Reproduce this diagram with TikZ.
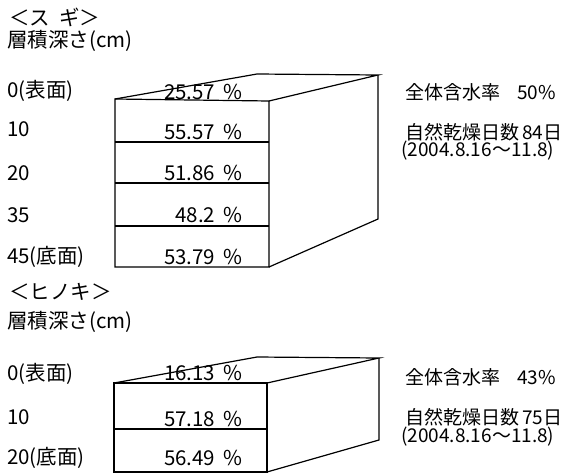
\documentclass[tikz,border=0pt]{standalone}
\usepackage{fontspec}
\setmainfont{Noto Sans CJK JP}
\newcommand{\pcs}{\hspace{0.42em}\%}
\begin{document}
\begin{tikzpicture}[x=1pt,y=-1pt,
  edge/.style={line width=1.2pt,black},
  lbl/.style={anchor=west,inner sep=0pt,font=\fontsize{20.5}{22}\selectfont},
  pct/.style={anchor=east,inner sep=0pt,font=\fontsize{20.5}{22}\selectfont},
  info/.style={anchor=west,inner sep=0pt,font=\fontsize{19}{20}\selectfont}]
\useasboundingbox (0,0) rectangle (567,474);
% ---------------- Sugi box ----------------
\coordinate (s-ftl) at (115,99);
\coordinate (s-ftr) at (269,101);
\coordinate (s-fbl) at (115,267);
\coordinate (s-fbr) at (269,267);
\coordinate (s-btl) at (257,74);
\coordinate (s-btr) at (378,75);
\coordinate (s-bbr) at (378,219);
\coordinate (s-d1l) at (115,142); \coordinate (s-d1r) at (269,142);
\coordinate (s-d2l) at (115,183); \coordinate (s-d2r) at (269,183);
\coordinate (s-d3l) at (115,226); \coordinate (s-d3r) at (269,226);
\draw[edge] (s-ftl) -- (s-ftr) -- (s-fbr) -- (s-fbl) -- cycle;
\draw[edge] (s-ftl) -- (s-btl) -- (s-btr) -- (s-ftr);
\draw[edge] (s-btr) -- (s-bbr) -- (s-fbr);
\draw[edge] (s-d1l) -- (s-d1r);
\draw[edge] (s-d2l) -- (s-d2r);
\draw[edge] (s-d3l) -- (s-d3r);
% labels
\node[lbl] (s-title) at (9,17) {＜ス\hspace{0.45em}ギ＞};
\node[lbl] (s-depth) at (7,41) {層積深さ(cm)};
\node[lbl] (s-l0) at (7,91) {0(表面)};
\node[lbl] (s-l10) at (7,129) {10};
\node[lbl] (s-l20) at (7,173) {20};
\node[lbl] (s-l35) at (7,215) {35};
\node[lbl] (s-l45) at (7,257) {45(底面)};
\node[pct] (s-p0) at (243,92) {25.57\pcs};
\node[pct] (s-p10) at (243,132) {55.57\pcs};
\node[pct] (s-p20) at (243,173) {51.86\pcs};
\node[pct] (s-p35) at (243,215) {48.2\pcs};
\node[pct] (s-p45) at (243,257) {53.79\pcs};
\node[info] (s-w) at (405,92) {全体含水率\hspace{0.9em}50\%};
\node[info] (s-d) at (405,132) {自然乾燥日数\,84日};
\node[info] (s-p) at (401,151) {(2004.8.16～11.8)};
% ---------------- Hinoki box ----------------
\coordinate (h-ftl) at (114,383);
\coordinate (h-ftr) at (267,383);
\coordinate (h-fbl) at (114,472);
\coordinate (h-fbr) at (267,472);
\coordinate (h-btl) at (257,357);
\coordinate (h-btr) at (379,358);
\coordinate (h-bbr) at (379,440);
\coordinate (h-d1l) at (114,429); \coordinate (h-d1r) at (267,429);
\draw[edge] (h-ftl) -- (h-ftr) -- (h-fbr) -- (h-fbl) -- cycle;
\draw[edge] (h-ftl) -- (h-btl) -- (h-btr) -- (h-ftr);
\draw[edge] (h-btr) -- (h-bbr) -- (h-fbr);
\draw[edge] (h-d1l) -- (h-d1r);
\node[lbl] (h-title) at (9,292) {＜ヒノキ＞};
\node[lbl] (h-depth) at (7,322) {層積深さ(cm)};
\node[lbl] (h-l0) at (7,374) {0(表面)};
\node[lbl] (h-l10) at (7,417) {10};
\node[lbl] (h-l20) at (7,458) {20(底面)};
\node[pct] (h-p0) at (243,373) {16.13\pcs};
\node[pct] (h-p10) at (243,419) {57.18\pcs};
\node[pct] (h-p20) at (243,458) {56.49\pcs};
\node[info] (h-w) at (405,377) {全体含水率\hspace{0.9em}43\%};
\node[info] (h-d) at (405,417) {自然乾燥日数\,75日};
\node[info] (h-p) at (401,437) {(2004.8.16～11.8)};
\end{tikzpicture}
\end{document}
